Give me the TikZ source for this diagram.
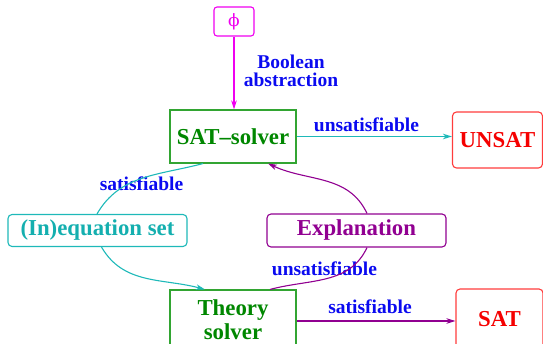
\documentclass[tikz,border=0pt]{standalone}
\usepackage{fontspec}
\setmainfont{Liberation Serif}
\newfontfamily\phifont{DejaVu Serif}
\usetikzlibrary{arrows.meta}
\definecolor{gbox}{RGB}{50,165,50}
\definecolor{gtext}{RGB}{0,135,0}
\definecolor{mag}{RGB}{240,0,240}
\definecolor{cy}{RGB}{30,185,185}
\definecolor{cytext}{RGB}{20,175,175}
\definecolor{pur}{RGB}{145,0,145}
\definecolor{rd}{RGB}{255,60,60}
\definecolor{rdtext}{RGB}{245,0,0}
\definecolor{lbl}{RGB}{10,10,240}
\newcommand{\mybigfont}{\fontsize{22.8}{24}\selectfont\bfseries}
\newcommand{\mylblfont}{\fontsize{19.5}{18}\selectfont\bfseries}
\begin{document}
\begin{tikzpicture}[x=1pt,y=1pt,
  box/.style={draw, line width=1.1pt, inner sep=0pt, font=\mybigfont, align=center},
  lab/.style={text=lbl, font=\mylblfont, inner sep=0pt, align=center},
  conn/.style={line width=1.1pt},
  arr/.style={-{Stealth[length=9pt,width=5.5pt,inset=2.5pt]}}]
\useasboundingbox (0,0) rectangle (543,344);
% boxes
\node[box, draw=mag, text=mag, rounded corners=3pt, minimum width=40pt, minimum height=29pt] (phi) at (234,322.5) {\phifont\mdseries\fontsize{17}{18}\selectfont ϕ};
\node[box, draw=gbox, text=gtext, minimum width=126pt, minimum height=53pt] (sat) at (233,207.5) {SAT--solver};
\node[box, draw=rd, text=rdtext, rounded corners=4pt, minimum width=90pt, minimum height=56pt] (unsat) at (497.5,204) {UNSAT};
\node[box, draw=cy, text=cytext, rounded corners=4pt, minimum width=179pt, minimum height=32pt] (ineq) at (97.5,113.5) {(In)equation set};
\node[box, draw=pur, text=pur, rounded corners=4pt, minimum width=179pt, minimum height=33pt] (expl) at (356.5,113.5) {Explanation};
\node[box, draw=gbox, text=gtext, minimum width=126pt, minimum height=60pt] (theory) at (233,24) {Theory\\solver};
\node[box, draw=rd, text=rdtext, rounded corners=4pt, minimum width=87pt, minimum height=60pt] (satres) at (499.5,25) {SAT};
% labels
\node[lab] (lbool) at (291,273) {Boolean\\abstraction};
\node[lab] (lunsat1) at (366.5,219) {unsatisfiable};
\node[lab] (lsat1) at (141.5,160) {satisfiable};
\node[lab] (lunsat2) at (324.5,75) {unsatisfiable};
\node[lab] (lsat2) at (370,37) {satisfiable};
% connectors
\draw[conn, draw=mag, arr] (phi.south) -- (phi.south |- sat.north);
\draw[conn, draw=cy, arr] (sat.east) -- (sat.east -| unsat.west);
\draw[conn, draw=cy] ([xshift=-30pt]sat.south) to[out=195,in=60] ([xshift=-0.5pt]ineq.north);
\draw[conn, draw=cy, arr] ([xshift=4pt]ineq.south) to[out=-60,in=165] ([xshift=-28pt]theory.north);
\draw[conn, draw=pur] ([xshift=37pt]theory.north) to[out=15,in=-115] ([xshift=10.5pt]expl.south);
\draw[conn, draw=pur, arr] ([xshift=10.5pt]expl.north) to[out=115,in=-25] ([xshift=35pt]sat.south);
\draw[conn, draw=pur, arr] ([yshift=-1pt]theory.east) -- ([yshift=-1pt]theory.east -| satres.west);
\end{tikzpicture}
\end{document}
